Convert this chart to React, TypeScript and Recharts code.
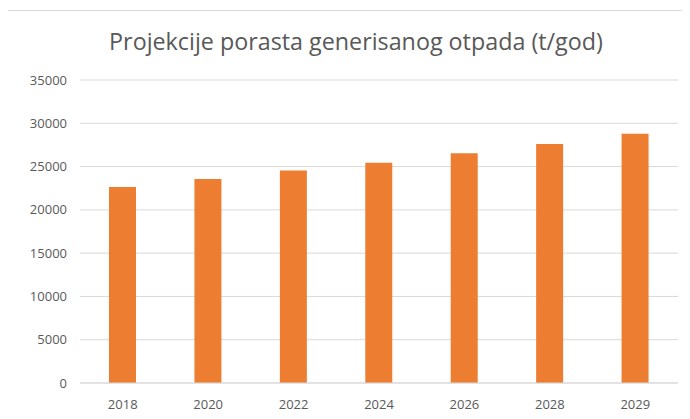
import { BarChart, Bar, XAxis, YAxis, CartesianGrid } from 'recharts';

const years = ['2018', '2020', '2022', '2024', '2026', '2028', '2029'];
const waste = [22650, 23550, 24550, 25430, 26550, 27600, 28800];
const yTicks = [0, 5000, 10000, 15000, 20000, 25000, 30000, 35000];

const data = years.map((year, i) => ({ year, value: waste[i] }));

const FONT = '"Open Sans", "Noto Sans", sans-serif';

export default function App() {
  return (
    <div style={{ position: 'relative', width: 690, height: 419, margin: -8, overflow: 'hidden', background: '#fff' }}>
      {/* chart frame, cut off on the right and bottom like the source */}
      <div style={{ position: 'absolute', left: 6, top: 10, width: 700, height: 420, border: '1px solid #d9d9d9' }} />
      <div style={{ position: 'absolute', left: 0, top: 25, width: 712, textAlign: 'center', fontFamily: FONT, fontSize: 23.3, color: '#595959' }}>
        Projekcije porasta generisanog otpada (t/god)
      </div>
      <BarChart
        width={690}
        height={419}
        data={data}
        margin={{ top: 80, right: 12, left: 0, bottom: 6 }}
        barSize={27}
        style={{ position: 'absolute', left: 0, top: 0 }}
      >
        <CartesianGrid vertical={false} stroke="#d9d9d9" />
        <XAxis
          dataKey="year"
          height={30}
          axisLine={{ stroke: '#d9d9d9' }}
          tickLine={false}
          tickSize={0}
          tickMargin={17}
          tick={{ fill: '#595959', fontSize: 13, fontFamily: FONT }}
        />
        <YAxis
          width={80}
          domain={[0, 35000]}
          ticks={yTicks}
          axisLine={false}
          tickLine={false}
          tickSize={0}
          tickMargin={13}
          tick={{ fill: '#595959', fontSize: 13, fontFamily: FONT }}
        />
        <Bar dataKey="value" fill="#ed7d31" isAnimationActive={false} />
      </BarChart>
    </div>
  );
}
